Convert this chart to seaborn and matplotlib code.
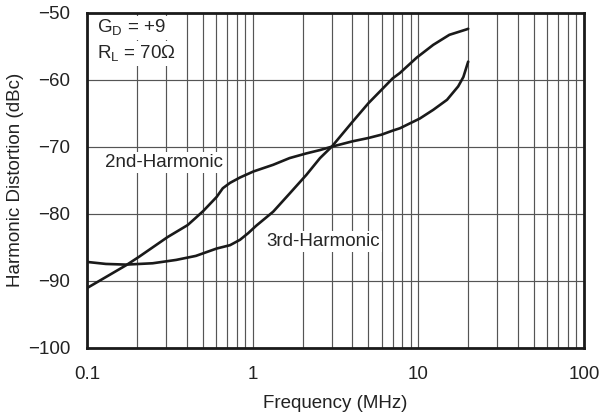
import numpy as np
import pandas as pd
import matplotlib
matplotlib.use('Agg')
from matplotlib import pyplot as plt
from matplotlib.ticker import FixedLocator, FixedFormatter, NullFormatter
import seaborn as sns

# ===================================================================
# Harmonic distortion vs frequency
# ===================================================================
freq_2nd = [0.1, 0.172, 0.207, 0.306, 0.405, 0.454, 0.503, 0.606, 0.66, 0.73, 0.838, 1.01,
            1.33, 1.67, 2.11, 2.55, 3.0, 4.0, 5.0, 6.0, 7.0, 7.74, 10.2, 12.3, 14.9, 17.4, 18.7, 20.0]
hd2_dbc = [-91.1, -87.7, -86.4, -83.5, -81.7, -80.6, -79.6, -77.5, -76.2, -75.4, -74.6, -73.7,
           -72.7, -71.7, -71.0, -70.5, -70.0, -69.2, -68.7, -68.2, -67.6, -67.25, -65.8, -64.5, -63.0, -61.0, -59.6, -57.3]

freq_3rd = [0.1, 0.13, 0.172, 0.249, 0.345, 0.454, 0.606, 0.73, 0.838, 0.94, 1.05, 1.33,
            1.67, 2.11, 2.55, 3.0, 4.0, 5.0, 6.0, 7.0, 7.74, 9.78, 12.3, 15.4, 19.5, 20.0]
hd3_dbc = [-87.2, -87.5, -87.6, -87.4, -86.9, -86.3, -85.2, -84.7, -83.9, -82.9, -81.8, -79.7,
           -77.0, -74.2, -71.7, -70.0, -66.3, -63.5, -61.5, -59.8, -59.0, -56.7, -54.8, -53.3, -52.5, -52.4]

x_ticks = [0.1, 1, 10, 100]
x_tick_labels = ['0.1', '1', '10', '100']
y_ticks = [-100, -90, -80, -70, -60, -50]

sns.set_style('white')
plt.rcParams['font.family'] = ['Liberation Sans', 'DejaVu Sans']
plt.rcParams['mathtext.fontset'] = 'custom'
plt.rcParams['mathtext.rm'] = 'Liberation Sans'

df2 = pd.DataFrame({'freq': freq_2nd, 'dbc': hd2_dbc})
df3 = pd.DataFrame({'freq': freq_3rd, 'dbc': hd3_dbc})

fig = plt.figure(figsize=(6.01, 4.15), dpi=100)
ax = fig.add_axes([0.1448, 0.1622, 0.8269, 0.8072])

sns.lineplot(x='freq', y='dbc', data=df2, color='#1a1a1a', linewidth=1.9, ax=ax)
sns.lineplot(x='freq', y='dbc', data=df3, color='#1a1a1a', linewidth=1.9, ax=ax)

ax.set_xscale('log')
ax.set_xlim(0.1, 100)
ax.set_ylim(-100, -50)

ax.xaxis.set_major_locator(FixedLocator(x_ticks))
ax.xaxis.set_major_formatter(FixedFormatter(x_tick_labels))
minor = [m * 10.0 ** e for e in (-1, 0, 1) for m in range(2, 10)]
ax.xaxis.set_minor_locator(FixedLocator(minor))
ax.xaxis.set_minor_formatter(NullFormatter())
ax.set_yticks(y_ticks)

ax.grid(which='both', color='#555555', linewidth=0.85)
ax.set_axisbelow(True)
ax.tick_params(which='both', length=0, labelsize=13.5, colors='#222222')
ax.tick_params(axis='x', pad=13)
ax.tick_params(axis='y', pad=12)

for s in ax.spines.values():
    s.set_color('#1a1a1a')
    s.set_linewidth(2.0)

ax.set_xlabel('Frequency (MHz)', fontsize=13.5, color='#222222', labelpad=9)
ax.set_ylabel('Harmonic Distortion (dBc)', fontsize=13.5, color='#222222', labelpad=3)

box = dict(facecolor='white', edgecolor='none', pad=1.5)
ax.text(0.292, -72.4, '2nd-Harmonic', fontsize=13.5, ha='center', va='center', bbox=box)
ax.text(2.66, -84.2, '3rd-Harmonic', fontsize=13.5, ha='center', va='center', bbox=box)
ax.text(0.1155, -52.3, r'G$_\mathregular{D}$ = +9', fontsize=13.5, ha='left', va='center', bbox=box)
ax.text(0.1155, -56.1, r'R$_\mathregular{L}$ = 70$\Omega$', fontsize=13.5, ha='left', va='center', bbox=box)

plt.savefig('out.png', dpi=100)
